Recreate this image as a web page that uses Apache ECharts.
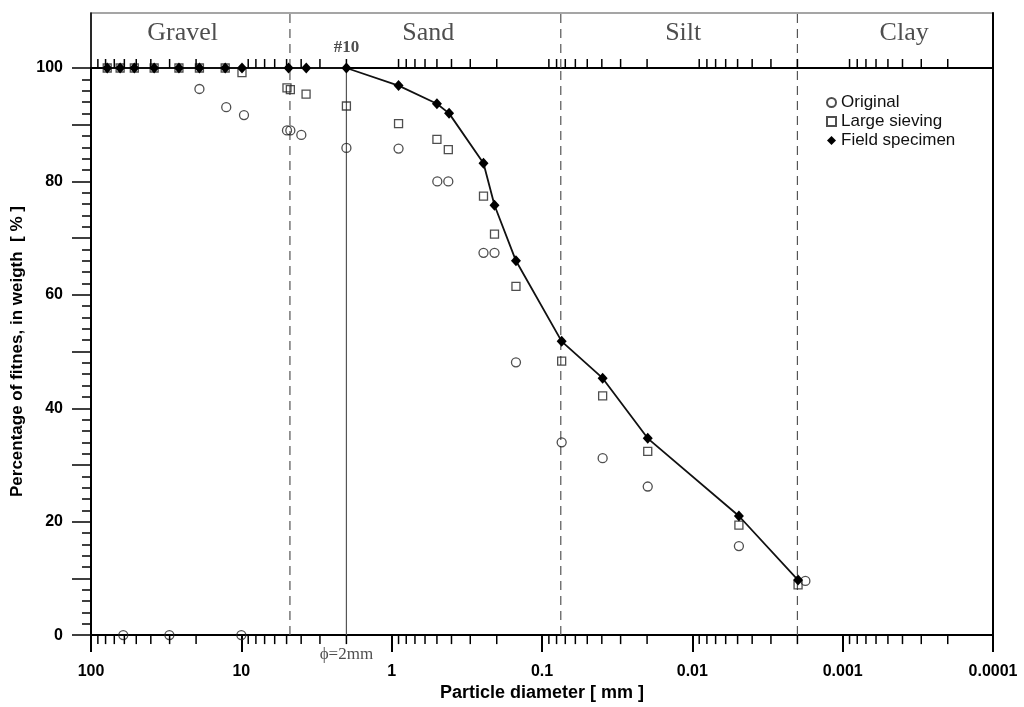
<!DOCTYPE html>
<html>
<head>
<meta charset="utf-8">
<script src="https://cdn.jsdelivr.net/npm/echarts@6/dist/echarts.min.js"></script>
<style>
html,body{margin:0;padding:0;background:#fff;}
#chart{width:1024px;height:707px;}
</style>
</head>
<body>
<div id="chart"></div>
<script>
// ---------------- data ----------------
const xTickLabels = ['100', '10', '1', '0.1', '0.01', '0.001', '0.0001'];
const yTickValues = [0, 20, 40, 60, 80, 100];

// Original (circles)
const origD = [61, 30.1, 10.0, 19.0, 12.6, 9.6, 4.97, 4.72, 3.99, 2.0, 0.9, 0.497, 0.42, 0.245, 0.207, 0.149, 0.074, 0.0395, 0.0198, 0.0049, 0.00177];
const origP = [0, 0, 0, 96.3, 93.1, 91.7, 89.0, 89.0, 88.2, 85.9, 85.8, 80.0, 80.0, 67.4, 67.4, 48.1, 34.0, 31.2, 26.2, 15.7, 9.55];

// Large sieving (squares)
const sieveD = [78, 64, 51.5, 38, 26, 19, 12.8, 9.9, 4.97, 4.72, 3.71, 2.0, 0.9, 0.5, 0.42, 0.245, 0.207, 0.149, 0.074, 0.0395, 0.0198, 0.0049, 0.00198];
const sieveP = [100, 100, 100, 100, 100, 100, 100, 99.2, 96.5, 96.2, 95.4, 93.3, 90.2, 87.4, 85.6, 77.4, 70.7, 61.5, 48.3, 42.2, 32.4, 19.4, 8.85];

// Field specimen (diamonds + line)
const fieldD = [78, 64, 51.5, 38, 26, 19, 12.8, 9.9, 4.85, 3.7, 2.0, 0.9, 0.5, 0.415, 0.245, 0.207, 0.149, 0.074, 0.0395, 0.0198, 0.0049, 0.00198];
const fieldP = [100, 100, 100, 100, 100, 100, 100, 100, 100, 100, 100, 96.9, 93.7, 92.0, 83.2, 75.8, 66.0, 51.8, 45.3, 34.7, 21.0, 9.7];

// Soil classes
const zoneBounds = [4.75, 0.075, 0.002];
const sieve10 = 2.0;
const zoneNames = ['Gravel', 'Sand', 'Silt', 'Clay'];
const zoneLabelX = [24.6, 0.57, 0.0115, 0.00039];

// axis minor tick positions (per decade multiples)
const decades = [0.0001, 0.001, 0.01, 0.1, 1, 10];
const minorMult = [2, 3, 4, 5, 6, 7, 8, 9];
// ---------------------------------------

const minorTicks = [];
decades.forEach(d => minorMult.forEach(m => minorTicks.push([d * m, 0])));

const zip = (a, b) => a.map((v, i) => [v, b[i]]);

const sans = 'Liberation Sans, Arial, sans-serif';
const serif = 'Liberation Serif, Times New Roman, serif';

function tickRender(dir, len) {
  return function (params, api) {
    const p = api.coord([api.value(0), 0]);
    return {
      type: 'line',
      shape: { x1: p[0], y1: p[1], x2: p[0], y2: p[1] + dir * len },
      style: { stroke: '#000', lineWidth: 1.5 }
    };
  };
}

function vLineRender(yTop, dash) {
  return function (params, api) {
    const p0 = api.coord([api.value(0), 0]);
    const p1 = api.coord([api.value(0), yTop]);
    return {
      type: 'line',
      shape: { x1: p0[0], y1: p0[1], x2: p1[0], y2: p1[1] },
      style: { stroke: '#555', lineWidth: 1.2, lineDash: dash }
    };
  };
}

const chart = echarts.init(document.getElementById('chart'));
chart.setOption({
  animation: false,
  backgroundColor: '#fff',
  grid: [
    { left: 91, right: 31, top: 68, bottom: 69 },
    { left: 91, right: 31, top: 13, height: 55, show: true, borderColor: '#888', borderWidth: 1.5 }
  ],
  legend: {
    orient: 'vertical',
    left: 821,
    top: 89,
    itemWidth: 9,
    itemHeight: 9,
    itemGap: 2,
    textStyle: { fontFamily: sans, fontSize: 17, color: '#111' },
    data: [
      { name: 'Original', icon: 'circle' },
      { name: 'Large sieving', icon: 'rect' },
      { name: 'Field specimen', icon: 'diamond' }
    ]
  },
  xAxis: [
    {
      type: 'log', logBase: 10, min: 0.0001, max: 100, inverse: true, gridIndex: 0,
      position: 'bottom',
      name: 'Particle diameter [ mm ]', nameLocation: 'middle', nameGap: 47,
      nameTextStyle: { fontFamily: sans, fontSize: 18, fontWeight: 'bold', color: '#000' },
      axisLine: { lineStyle: { color: '#000', width: 2 } },
      axisTick: { show: true, length: 17, lineStyle: { color: '#000', width: 2 } },
      minorTick: { show: false },
      splitLine: { show: false },
      axisLabel: {
        margin: 28, fontFamily: sans, fontSize: 16, fontWeight: 'bold', color: '#000',
        formatter: v => xTickLabels[2 - Math.round(Math.log10(v))]
      }
    },
    {
      type: 'log', logBase: 10, min: 0.0001, max: 100, inverse: true, gridIndex: 1,
      position: 'bottom',
      axisLine: { lineStyle: { color: '#000', width: 2 } },
      axisTick: { show: false }, axisLabel: { show: false }, splitLine: { show: false }
    }
  ],
  yAxis: [
    {
      type: 'value', min: 0, max: 100, interval: 10, gridIndex: 0, position: 'left',
      name: 'Percentage of fitnes, in weigth  [ % ]', nameLocation: 'middle', nameGap: 60,
      nameTextStyle: { fontFamily: sans, fontSize: 17, fontWeight: 'bold', color: '#000' },
      axisLine: { show: true, lineStyle: { color: '#000', width: 2 } },
      axisTick: { show: true, length: 19, lineStyle: { color: '#000', width: 1.5 } },
      minorTick: { show: true, splitNumber: 5, length: 9, lineStyle: { color: '#000', width: 1.5 } },
      splitLine: { show: false },
      axisLabel: {
        margin: 28, fontFamily: sans, fontSize: 16, fontWeight: 'bold', color: '#000',
        formatter: v => (yTickValues.indexOf(v) >= 0 ? String(v) : '')
      }
    },
    {
      type: 'value', min: 0, max: 100, gridIndex: 0, position: 'right',
      axisLine: { show: true, lineStyle: { color: '#000', width: 2 } },
      axisTick: { show: false }, axisLabel: { show: false }, splitLine: { show: false }
    },
    {
      type: 'value', min: 0, max: 1, gridIndex: 1, position: 'left',
      axisLine: { show: true, lineStyle: { color: '#000', width: 1.5 } },
      axisTick: { show: false }, axisLabel: { show: false }, splitLine: { show: false }
    },
    {
      type: 'value', min: 0, max: 1, gridIndex: 1, position: 'right',
      axisLine: { show: true, lineStyle: { color: '#000', width: 2 } },
      axisTick: { show: false }, axisLabel: { show: false }, splitLine: { show: false }
    }
  ],
  series: [
    // zone boundaries (dashed) and #10 sieve (solid) in main grid
    {
      type: 'custom', xAxisIndex: 0, yAxisIndex: 0, clip: false, silent: true, z: 1,
      renderItem: vLineRender(100, [9, 6]), data: zoneBounds.map(b => [b, 0])
    },
    {
      type: 'custom', xAxisIndex: 0, yAxisIndex: 0, clip: false, silent: true, z: 1,
      renderItem: vLineRender(100, null), data: [[sieve10, 0]]
    },
    // zone boundaries in header band
    {
      type: 'custom', xAxisIndex: 1, yAxisIndex: 2, clip: false, silent: true, z: 1,
      renderItem: vLineRender(1, [9, 6]), data: zoneBounds.map(b => [b, 0])
    },
    {
      name: 'Original', type: 'scatter', xAxisIndex: 0, yAxisIndex: 0,
      symbol: 'circle', symbolSize: 9, clip: false,
      itemStyle: { color: 'rgba(255,255,255,0)', borderColor: '#222', borderWidth: 1.3 },
      data: zip(origD, origP), z: 3
    },
    {
      name: 'Large sieving', type: 'scatter', xAxisIndex: 0, yAxisIndex: 0,
      symbol: 'rect', symbolSize: 8, clip: false,
      itemStyle: { color: 'rgba(255,255,255,0)', borderColor: '#222', borderWidth: 1.3 },
      data: zip(sieveD, sieveP), z: 3
    },
    {
      name: 'Field specimen', type: 'line', xAxisIndex: 0, yAxisIndex: 0,
      symbol: 'diamond', symbolSize: [10, 11], showSymbol: true, clip: false,
      lineStyle: { color: '#111', width: 1.8 },
      itemStyle: { color: '#000' },
      data: zip(fieldD, fieldP), z: 4
    },
    {
      type: 'custom', xAxisIndex: 0, yAxisIndex: 0, clip: false, silent: true,
      renderItem: tickRender(1, 9), data: minorTicks, z: 5
    },
    {
      type: 'custom', xAxisIndex: 1, yAxisIndex: 2, clip: false, silent: true,
      renderItem: tickRender(-1, 9), data: minorTicks, z: 5
    },
    {
      type: 'scatter', xAxisIndex: 1, yAxisIndex: 2, silent: true, clip: false,
      symbolSize: 1, itemStyle: { color: 'rgba(0,0,0,0)' },
      label: {
        show: true, position: 'inside', formatter: p => p.name,
        fontFamily: serif, fontSize: 26, color: '#222'
      },
      data: zoneNames.map((n, i) => ({ name: n, value: [zoneLabelX[i], 0.633] }))
        .concat([{ name: '#10', value: [sieve10, 0.378],
          label: { fontSize: 17, fontWeight: 'bold', color: '#222' } }])
    },
    {
      type: 'scatter', xAxisIndex: 0, yAxisIndex: 0, silent: true, clip: false,
      symbolSize: 1, itemStyle: { color: 'rgba(0,0,0,0)' },
      label: {
        show: true, position: 'inside', formatter: p => p.name,
        fontFamily: serif, fontSize: 17, color: '#222'
      },
      data: [{ name: '\u03D5=2mm', value: [sieve10, -3.5] }]
    }
  ]
});
</script>
</body>
</html>
